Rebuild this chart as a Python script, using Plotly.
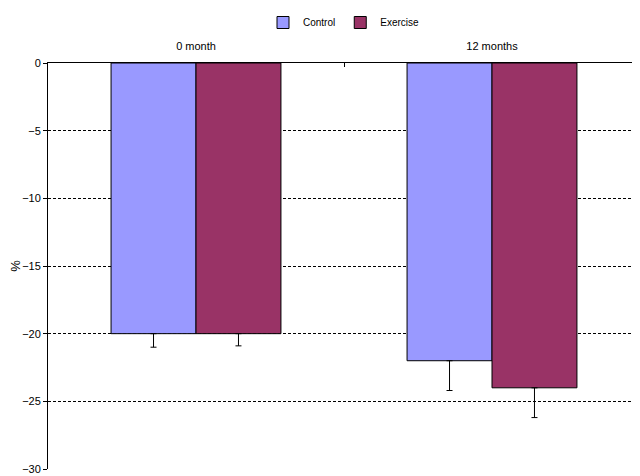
import plotly.graph_objects as go

categories = ["0 month", "12 months"]
control = [-20, -22]
exercise = [-20, -24]
control_err = [1.0, 2.2]
exercise_err = [0.9, 2.2]

fig = go.Figure()
fig.add_trace(go.Bar(
    x=categories, y=control, name="Control",
    marker=dict(color="#9999FF", line=dict(color="black", width=1)),
    error_y=dict(type="data", symmetric=False, array=[0, 0], arrayminus=control_err,
                 color="black", thickness=1, width=3),
))
fig.add_trace(go.Bar(
    x=categories, y=exercise, name="Exercise",
    marker=dict(color="#993366", line=dict(color="black", width=1)),
    error_y=dict(type="data", symmetric=False, array=[0, 0], arrayminus=exercise_err,
                 color="black", thickness=1, width=3),
))

fig.update_layout(
    width=632, height=468,
    margin=dict(l=40, r=0, t=55, b=7, autoexpand=False),
    paper_bgcolor="white", plot_bgcolor="white",
    font=dict(family="Liberation Sans, Arial, sans-serif", size=11, color="black"),
    barmode="group", bargap=0.426, bargroupgap=0,
    showlegend=True,
    legend=dict(orientation="h", x=0.5, xanchor="center", xref="paper",
                y=1.0, yref="container", yanchor="top",
                font=dict(size=10), itemwidth=30, tracegroupgap=0,
                bgcolor="rgba(0,0,0,0)"),
    xaxis=dict(side="top", type="category", range=[-0.5, 1.5], automargin=False,
               showline=True, linecolor="black", linewidth=1,
               ticks="inside", ticklen=4, tickcolor="black", tickson="boundaries",
               ticklabelstandoff=8,
               showgrid=False, zeroline=False, tickfont=dict(size=11)),
    yaxis=dict(range=[-30, 0], dtick=5, ticks="outside", ticklen=4, tickcolor="black",
               automargin=False,
               showline=True, linecolor="black", linewidth=1,
               showgrid=True, gridcolor="black", griddash="3px,2px", gridwidth=1,
               zeroline=False, title=dict(text="%", standoff=14),
               tickfont=dict(size=11)),
)

fig.write_html("out.html")
